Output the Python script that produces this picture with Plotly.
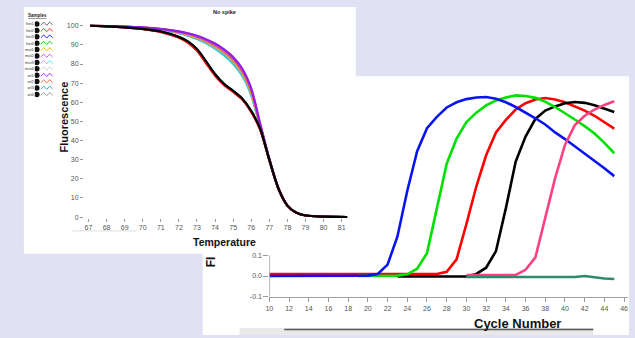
import plotly.graph_objects as go

W, H = 635, 338
FONT = "Liberation Sans, Arial, sans-serif"

# ---------------- melt-curve data (left panel) ----------------
melt_temps = [67.1, 68, 69, 70, 71, 72, 72.5, 73, 73.5, 74, 74.5, 75, 75.5, 76, 76.5, 77, 77.5, 78, 78.5, 79, 80, 81.3]
melt_ticks = [67, 68, 69, 70, 71, 72, 73, 74, 75, 76, 77, 78, 79, 80, 81]
fluor_ticks = [0, 10, 20, 30, 40, 50, 60, 70, 80, 90, 100]

sample_names = ["het1", "het2", "het3", "het4", "mut1", "mut2", "mut3", "mut4", "wt1", "wt2", "wt3", "wt4"]
sample_colors = ["#000000", "#ff1010", "#1010ff", "#00c800", "#f0b400", "#e040e0",
                 "#30e0e8", "#c8c8c8", "#9020e0", "#e06030", "#20a0a0", "#909090"]

het1 = [100, 99.7, 99.2, 98.4, 97.0, 94.2, 91.8, 87.8, 81.5, 74.8, 69.6, 66.0, 62.0, 55.5, 46.0, 30.0, 15.0, 6.0, 2.2, 0.8, 0.2, 0]
het2 = [100, 99.7, 99.1, 98.2, 96.7, 93.7, 91.1, 86.9, 80.4, 73.9, 69.0, 65.4, 61.4, 54.8, 45.5, 29.7, 14.8, 5.9, 2.2, 0.8, 0.2, 0]
het3 = [100, 99.7, 99.2, 98.3, 96.9, 94.0, 91.5, 87.4, 81.0, 74.4, 69.3, 65.7, 61.7, 55.2, 45.8, 29.9, 14.9, 6.0, 2.2, 0.8, 0.2, 0]
het4 = [100, 99.7, 99.2, 98.4, 97.0, 94.1, 91.7, 87.6, 81.3, 74.6, 69.5, 65.9, 61.9, 55.4, 45.9, 30.0, 15.0, 6.0, 2.2, 0.8, 0.2, 0]
mut1 = [100, 99.8, 99.5, 99.0, 98.1, 96.6, 95.5, 94.0, 92.0, 89.5, 86.3, 82.0, 75.8, 65.5, 47.5, 30.0, 15.0, 6.0, 2.2, 0.8, 0.2, 0]
mut2 = [100, 99.8, 99.6, 99.1, 98.3, 96.9, 95.9, 94.5, 92.6, 90.2, 87.1, 83.0, 77.0, 66.7, 48.2, 30.4, 15.2, 6.1, 2.2, 0.8, 0.2, 0]
mut3 = [100, 99.8, 99.4, 98.8, 97.8, 96.1, 94.8, 93.1, 90.8, 88.0, 84.5, 80.0, 73.8, 63.6, 46.6, 29.5, 14.8, 5.9, 2.2, 0.8, 0.2, 0]
mut4 = [100, 99.8, 99.5, 98.9, 97.9, 96.4, 95.1, 93.6, 91.4, 88.8, 85.5, 81.0, 74.8, 64.6, 47.1, 29.8, 14.9, 6.0, 2.2, 0.8, 0.2, 0]
wt1 = [100, 99.8, 99.6, 99.2, 98.4, 97.1, 96.1, 94.8, 93.0, 90.7, 87.6, 83.6, 77.6, 67.3, 48.6, 30.6, 15.3, 6.1, 2.2, 0.8, 0.2, 0]
wt2 = [100, 99.8, 99.5, 99.1, 98.2, 96.8, 95.7, 94.3, 92.3, 89.9, 86.7, 82.5, 76.4, 66.1, 47.9, 30.2, 15.1, 6.0, 2.2, 0.8, 0.2, 0]
wt3 = [100, 99.8, 99.4, 98.9, 97.9, 96.3, 95.0, 93.4, 91.2, 88.5, 85.1, 80.6, 74.4, 64.2, 46.9, 29.7, 14.9, 5.9, 2.2, 0.8, 0.2, 0]
wt4 = [100, 99.8, 99.5, 99.0, 98.0, 96.5, 95.3, 93.8, 91.7, 89.1, 85.9, 81.5, 75.3, 65.0, 47.3, 29.9, 15.0, 6.0, 2.2, 0.8, 0.2, 0]
melt_series = [het1, het2, het3, het4, mut1, mut2, mut3, mut4, wt1, wt2, wt3, wt4]
melt_draw_order = [6, 10, 7, 11, 4, 9, 5, 8, 3, 2, 1, 0]

# ---------------- amplification data (right panel) ----------------
cycles = [10, 11, 12, 13, 14, 15, 16, 17, 18, 19, 20, 21, 22, 23, 24, 25, 26, 27,
          28, 29, 30, 31, 32, 33, 34, 35, 36, 37, 38, 39, 40, 41, 42, 43, 44, 45]
cycle_ticks = [10, 12, 14, 16, 18, 20, 22, 24, 26, 28, 30, 32, 34, 36, 38, 40, 42, 44, 46]
amp_yticks = [-0.1, 0.0, 0.1]
amp_yticklabels = ["-0.1", "0.0", "0.1"]

amp_blue = [0, 0, 0, 0, 0, 0, 0, 0, 0, 0, 0.002, 0.01, 0.055, 0.19, 0.41, 0.60, 0.71, 0.765,
            0.81, 0.835, 0.85, 0.858, 0.86, 0.852, 0.835, 0.812, 0.786, 0.758, 0.728, 0.69,
            0.658, 0.624, 0.59, 0.555, 0.518, 0.48]
amp_green = [None, None, None, None, None, None, None, None, None, 0, 0, 0, 0, 0.002, 0.008,
             0.035, 0.11, 0.33, 0.54, 0.66, 0.74, 0.785, 0.82, 0.843, 0.858, 0.868, 0.865,
             0.856, 0.838, 0.812, 0.783, 0.752, 0.72, 0.685, 0.64, 0.59]
amp_red = [0.01, 0.01, 0.01, 0.01, 0.01, 0.01, 0.01, 0.01, 0.01, 0.01, 0.01, 0.01, 0.01, 0.01,
           0.01, 0.01, 0.01, 0.01, 0.02, 0.08, 0.25, 0.43, 0.58, 0.69, 0.75, 0.80, 0.83, 0.848,
           0.855, 0.848, 0.835, 0.815, 0.795, 0.77, 0.74, 0.708]
amp_black = [None, None, None, None, None, None, None, None, None, None, None, None, None,
             -0.002, -0.002, -0.002, -0.002, -0.002, -0.002, -0.002, -0.002, 0.01, 0.04, 0.12,
             0.325, 0.55, 0.67, 0.755, 0.795, 0.815, 0.83, 0.836, 0.832, 0.82, 0.805, 0.788]
amp_pink = [None, None, None, None, None, None, None, None, None, None, None, None, None, None,
            None, None, None, None, None, None, 0.005, 0.005, 0.005, 0.005, 0.005, 0.005, 0.03,
            0.09, 0.28, 0.47, 0.63, 0.725, 0.77, 0.80, 0.822, 0.84]
amp_teal = [None, None, None, None, None, None, None, None, None, None, None, None, None, None,
            None, None, None, None, None, None, -0.004, -0.004, -0.005, -0.005, -0.005, -0.005,
            -0.004, -0.004, -0.005, -0.006, -0.007, -0.005, 0.0, -0.006, -0.012, -0.014]
amp_series = [("red", amp_red, "#ff0000"), ("black", amp_black, "#000000"),
              ("green", amp_green, "#00e000"), ("blue", amp_blue, "#0a14f0"),
              ("pink", amp_pink, "#ff4080"), ("teal", amp_teal, "#2e8b6a")]


# ---------------- helpers (pixel -> paper) ----------------
def fx(px):
    return px / W


def fy(py):
    return 1 - py / H


fig = go.Figure()

# melt curves
for i in melt_draw_order:
    fig.add_trace(go.Scatter(x=melt_temps, y=melt_series[i], mode="lines",
                             line=dict(color=sample_colors[i], width=2.2, shape="spline", smoothing=0.8),
                             xaxis="x", yaxis="y", showlegend=False, hoverinfo="skip"))

# amplification curves
for name, vals, col in amp_series:
    fig.add_trace(go.Scatter(x=cycles, y=vals, mode="lines", name=name,
                             line=dict(color=col, width=2.6),
                             xaxis="x2", yaxis="y2", showlegend=False, hoverinfo="skip"))

# sample key (small glyph legend in left panel)
glyph_x = [1, 1.75, 2.5, 3.25, 4]
glyph_dy = [0.15, -0.3, 0.2, -0.3, 0.15]
for i, col in enumerate(sample_colors):
    fig.add_trace(go.Scatter(x=glyph_x, y=[i + d for d in glyph_dy], mode="lines",
                             line=dict(color=col if col != "#000000" else "#555555", width=0.9),
                             xaxis="x3", yaxis="y3", showlegend=False, hoverinfo="skip"))
fig.add_trace(go.Scatter(x=[0] * len(sample_names), y=list(range(len(sample_names))), mode="markers",
                         marker=dict(color="#111111", size=5.5, symbol="circle"),
                         xaxis="x3", yaxis="y3", showlegend=False, hoverinfo="skip"))

tickfont = dict(family=FONT, size=7, color="#555555")

fig.update_layout(
    width=W, height=H,
    margin=dict(l=0, r=0, t=0, b=0),
    paper_bgcolor="#e1e1f4",
    plot_bgcolor="rgba(0,0,0,0)",
    showlegend=False,
    xaxis=dict(domain=[fx(80.45), fx(358)], range=[66.75, 82], anchor="y",
               tickvals=melt_ticks, ticks="outside", ticklen=3, tickcolor="#999999",
               showline=False, showgrid=False, zeroline=False, tickfont=tickfont),
    yaxis=dict(domain=[fy(219.965), fy(18.28)], range=[-0.5, 104], anchor="x",
               tickvals=fluor_ticks, ticks="outside", ticklen=3, tickcolor="#999999",
               showline=False, showgrid=False, zeroline=False, tickfont=tickfont),
    xaxis2=dict(domain=[fx(267), fx(628)], range=[10, 46.4], anchor="y2",
                tickvals=cycle_ticks, ticks="outside", ticklen=4, tickcolor="#999999",
                showline=True, linecolor="#a0a0a0", linewidth=1.5,
                showgrid=False, zeroline=False, tickfont=tickfont),
    yaxis2=dict(domain=[fy(299.5), fy(68.5)], range=[-0.1, 1.0], anchor="x2",
                tickvals=amp_yticks, ticktext=amp_yticklabels, ticks="outside", ticklen=5,
                tickcolor="#999999", showline=False, showgrid=False, zeroline=False,
                tickfont=tickfont),
    xaxis3=dict(domain=[fx(31), fx(51)], range=[-0.5, 4.5], anchor="y3", visible=False),
    yaxis3=dict(domain=[fy(98.5), fy(21)], range=[11.5, -0.5], anchor="x3",
                tickvals=list(range(len(sample_names))), ticktext=sample_names,
                ticks="", showline=False, showgrid=False, zeroline=False,
                tickfont=dict(family=FONT, size=4, color="#333333")),
)

shapes = [
    # right (amplification) panel, behind
    dict(type="rect", xref="paper", yref="paper", x0=fx(200), x1=fx(629), y0=fy(338), y1=fy(77),
         fillcolor="white", line=dict(width=0), layer="below"),
    # left (melt) panel, on top
    dict(type="rect", xref="paper", yref="paper", x0=fx(20), x1=fx(354), y0=fy(256), y1=fy(7),
         fillcolor="white", line=dict(width=0), layer="below"),
    # faint line under left panel ticks
    dict(type="line", xref="paper", yref="paper", x0=fx(68), x1=fx(133), y0=fy(233), y1=fy(233),
         line=dict(color="#dddddd", width=1), layer="below"),
    # amplification y axis line (only spans the tick range)
    dict(type="line", xref="x2", yref="y2", x0=10, x1=10, y0=-0.1, y1=0.1,
         line=dict(color="#a0a0a0", width=1.5)),
    # bottom strip in right panel
    dict(type="rect", xref="paper", yref="paper", x0=fx(237), x1=fx(593), y0=fy(338), y1=fy(331),
         fillcolor="#e8e8e8", line=dict(width=0), layer="below"),
    dict(type="line", xref="paper", yref="paper", x0=fx(282), x1=fx(593), y0=fy(332.5), y1=fy(332.5),
         line=dict(color="#555555", width=1.5), layer="below"),
]
fig.update_layout(shapes=shapes)

annotations = [
    dict(text="<b>No spike</b>", x=fx(222), y=fy(12), font=dict(family=FONT, size=5.5, color="#222222")),
    dict(text="<b><u>Samples</u></b>", x=fx(34), y=fy(16), font=dict(family=FONT, size=4.5, color="#222222")),
    dict(text="<b>Fluorescence</b>", x=fx(60), y=fy(118), textangle=-90,
         font=dict(family=FONT, size=11, color="#111111")),
    dict(text="<b>Temperature</b>", x=fx(222), y=fy(244), font=dict(family=FONT, size=10.5, color="#111111")),
    dict(text="<b>Fl</b>", x=fx(208), y=fy(264), textangle=-90, font=dict(family=FONT, size=12, color="#111111")),
    dict(text="<b>Cycle Number</b>", x=fx(517), y=fy(326), font=dict(family=FONT, size=13, color="#111111")),
]
for a in annotations:
    a.update(xref="paper", yref="paper", xanchor="center", yanchor="middle", showarrow=False)
fig.update_layout(annotations=annotations)

fig.write_html("out.html",
               config={"displayModeBar": False, "staticPlot": True},
               post_script="document.body.style.margin='0px';document.body.style.overflow='hidden';"
                           "document.body.style.background='#e1e1f4';")
